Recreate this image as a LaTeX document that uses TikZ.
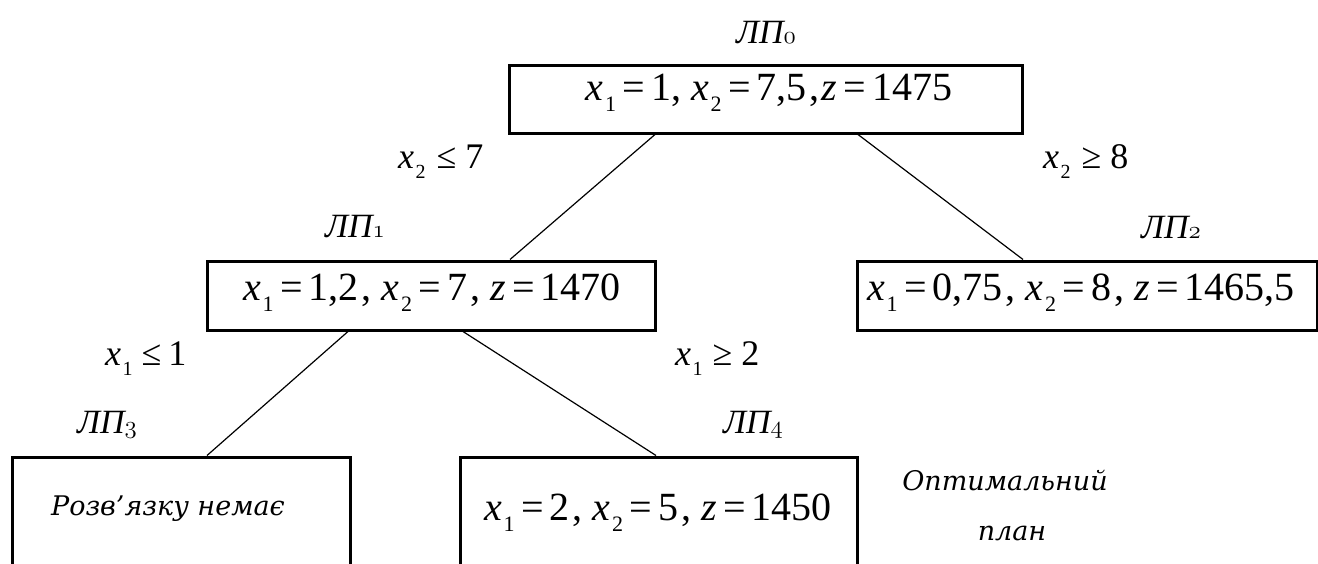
\documentclass[tikz,border=0pt]{standalone}
\usepackage{fontspec}
\setmainfont{Liberation Serif}
\newfontfamily\notefam{DejaVu Serif}
\newcommand{\subsz}{\fontsize{24}{24}\selectfont}
\newcommand{\eqfont}{\fontsize{40}{48}\selectfont\renewcommand{\subsz}{\fontsize{22}{22}\selectfont}}
\newcommand{\condfont}{\fontsize{36}{40}\selectfont\renewcommand{\subsz}{\fontsize{20}{20}\selectfont}}
\newcommand{\lpfont}{\fontsize{34}{38}\selectfont\itshape}
\newcommand{\notefont}{\notefam\itshape\fontsize{27}{32}\selectfont}
\newcommand{\vx}[1]{\textit{x}\kern.04em\raisebox{-.28em}{\subsz #1}}
\newcommand{\osn}[1]{{\usefont{OML}{cmm}{m}{it}#1}}
\newcommand{\eqs}{\kern6.5pt=\kern6pt}
\begin{document}
\begin{tikzpicture}[x=1pt,y=-1pt,
  box/.style={draw,line width=3pt,inner sep=0pt},
  eqtext/.style={font=\eqfont,inner sep=0pt,anchor=base},
  cond/.style={font=\condfont,inner sep=0pt,anchor=base west},
  lp/.style={font=\lpfont,inner sep=0pt},
  note/.style={font=\notefont,inner sep=0pt,anchor=base},
  link/.style={line width=1.2pt}]
\fill[white] (0,0) rectangle (1318,563);
\clip (0,0) rectangle (1318,563);
% boxes
\node[box,minimum width=513pt,minimum height=68pt] (b0) at (765.5,99) {};
\node[box,minimum width=448pt,minimum height=69pt] (b1) at (431,295.5) {};
\node[box,minimum width=460pt,minimum height=69pt] (b2) at (1087,295.5) {};
\node[box,minimum width=338pt,minimum height=160pt] (b3) at (181,537) {};
\node[box,minimum width=397pt,minimum height=160pt] (b4) at (658.5,537) {};
% box texts
\node[eqtext] (t0) at (769,100) {\vx1\eqs1,\ \vx2\eqs7,5\kern3pt,\kern2pt\textit{z}\eqs1475};
\node[eqtext] (t1) at (432,300) {\vx1\eqs1,2\kern3pt,\ \vx2\eqs7\kern3pt,\ \textit{z}\eqs1470};
\node[eqtext] (t2) at (1081,300) {\vx1\eqs0,75\kern3pt,\ \vx2\eqs8\kern3pt,\ \textit{z}\eqs1465,5};
\node[note] (t3) at (168,515) {Розв’язку немає};
\node[eqtext] (t4) at (658,520) {\vx1\eqs2\kern3pt,\ \vx2\eqs5\kern3pt,\ \textit{z}\eqs1450};
% labels
\node[lp] (l0) at (766,33) {ЛП\osn{0}};
\node[lp] (l1) at (355,227) {ЛП\osn{1}};
\node[lp] (l2) at (1171,228) {ЛП\osn{2}};
\node[lp] (l3) at (107,425) {ЛП\osn{3}};
\node[lp] (l4) at (753,425) {ЛП\osn{4}};
% conditions
\node[cond] (c0) at (398,168) {\vx2\kern11pt≤\kern9pt7};
\node[cond] (c1) at (1043,168) {\vx2\kern11pt≥\kern9pt8};
\node[cond] (c2) at (105,365) {\vx1\kern9pt≤\kern7pt1};
\node[cond] (c3) at (675,365) {\vx1\kern10pt≥\kern9pt2};
% note
\node[note] (n0) at (1005,490) {Оптимальний};
\node[note] (n1) at (1012,540) {план};
% links
\draw[link] ([xshift=-110.5pt]b0.south) -- ([xshift=79pt]b1.north);
\draw[link] ([xshift=92.5pt]b0.south) -- ([xshift=-64pt]b2.north);
\draw[link] ([xshift=-83pt]b1.south) -- ([xshift=26pt]b3.north);
\draw[link] ([xshift=32pt]b1.south) -- ([xshift=-2.5pt]b4.north);
\end{tikzpicture}
\end{document}
